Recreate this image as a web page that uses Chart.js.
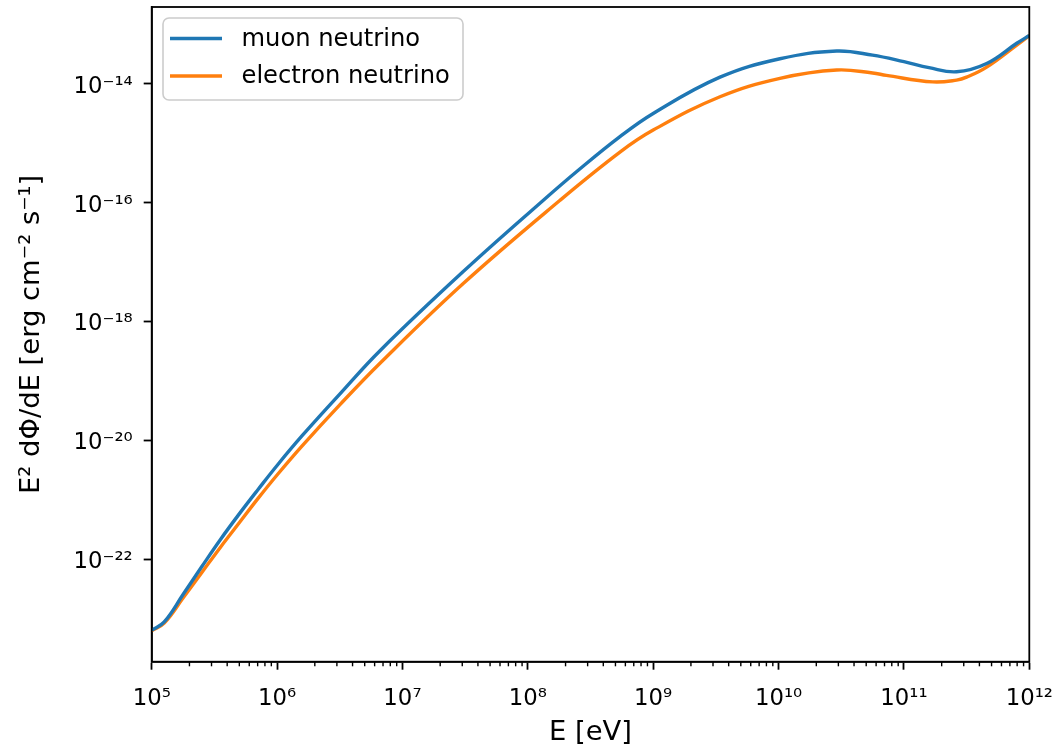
<!DOCTYPE html>
<html>
<head>
<meta charset="utf-8">
<script src="https://cdn.jsdelivr.net/npm/chart.js@4/dist/chart.umd.min.js"></script>
<style>
  body { margin: 0; background: #fff; }
  #wrap { width: 1059px; height: 753px; position: relative; }
</style>
</head>
<body>
<div id="wrap"><canvas id="fluxChart"></canvas></div>
<script>
// values, as log10 of E [eV] and of E^2 dPhi/dE
var muonLogE = [5.0, 5.1, 5.25, 5.4, 5.55, 5.7, 5.85, 6.0, 6.2, 6.5, 6.821, 7.485, 8.124, 8.4, 8.735, 9.0, 9.533, 10.011, 10.464, 10.75, 11.0, 11.2, 11.42, 11.66, 11.9, 12.0];
var muonLogFlux = [-23.19, -23.05, -22.59, -22.12, -21.66, -21.23, -20.82, -20.42, -19.92, -19.22, -18.49, -17.16, -15.96, -15.46, -14.89, -14.5, -13.89, -13.58, -13.45, -13.52, -13.63, -13.73, -13.8, -13.66, -13.32, -13.19];

var electronLogE = [5.0, 5.1, 5.25, 5.4, 5.55, 5.7, 5.85, 6.0, 6.2, 6.5, 6.821, 7.485, 8.257, 8.735, 9.0, 9.533, 10.011, 10.464, 10.75, 10.86, 11.23, 11.42, 11.5, 11.66, 11.9, 12.0];
var electronLogFlux = [-23.2, -23.07, -22.65, -22.22, -21.79, -21.38, -20.97, -20.58, -20.09, -19.4, -18.7, -17.36, -15.96, -15.15, -14.78, -14.22, -13.91, -13.77, -13.82, -13.86, -13.97, -13.94, -13.89, -13.72, -13.35, -13.19];

var labels = ["muon neutrino", "electron neutrino"];
var colors = ["#1f77b4", "#ff7f0e"];

var xTickExp = [5, 6, 7, 8, 9, 10, 11, 12];
var yTickExp = [-22, -20, -18, -16, -14];
var xMinorMult = [2, 3, 4, 5, 6, 7, 8, 9];

var sup = { "-": "\u207B", "0": "\u2070", "1": "\u00B9", "2": "\u00B2", "3": "\u00B3", "4": "\u2074",
  "5": "\u2075", "6": "\u2076", "7": "\u2077", "8": "\u2078", "9": "\u2079" };

function powLabel(v) {
  var e = Math.round(Math.log10(v));
  return "10" + String(e).split("").map((c) => sup[c]).join("");
}

function toPoints(logE, logF) {
  return logE.map((e, i) => ({ x: Math.pow(10, e), y: Math.pow(10, logF[i]) }));
}

Chart.defaults.font.family = "DejaVu Sans";
Chart.defaults.color = "#000";

const frameAndMinor = {
  id: "frameAndMinor",
  afterDraw(chart) {
    const ctx = chart.ctx;
    const a = chart.chartArea;
    const xs = chart.scales.x;
    ctx.save();
    ctx.strokeStyle = "#000";
    // minor ticks on the energy axis
    ctx.lineWidth = 1.4;
    for (var n = 5; n < 12; n++) {
      for (var m of xMinorMult) {
        var px = xs.getPixelForValue(m * Math.pow(10, n));
        ctx.beginPath();
        ctx.moveTo(px, a.bottom);
        ctx.lineTo(px, a.bottom + 4.6);
        ctx.stroke();
      }
    }
    // box round the axes
    ctx.lineWidth = 1.8;
    ctx.strokeRect(a.left, a.top, a.right - a.left, a.bottom - a.top);

    // legend in upper left
    var bx = 163, by = 18, bw = 300, bh = 82, r = 6;
    ctx.beginPath();
    ctx.moveTo(bx + r, by);
    ctx.arcTo(bx + bw, by, bx + bw, by + bh, r);
    ctx.arcTo(bx + bw, by + bh, bx, by + bh, r);
    ctx.arcTo(bx, by + bh, bx, by, r);
    ctx.arcTo(bx, by, bx + bw, by, r);
    ctx.closePath();
    ctx.fillStyle = "rgba(255,255,255,0.8)";
    ctx.fill();
    ctx.strokeStyle = "#cccccc";
    ctx.lineWidth = 1.6;
    ctx.stroke();
    ctx.font = "24.2px 'DejaVu Sans'";
    ctx.textBaseline = "middle";
    ctx.textAlign = "left";
    chart.data.datasets.forEach((ds, i) => {
      var ly = 38.5 + i * 37.5;
      ctx.strokeStyle = ds.borderColor;
      ctx.lineWidth = 3.4;
      ctx.beginPath();
      ctx.moveTo(170, ly);
      ctx.lineTo(222, ly);
      ctx.stroke();
      ctx.fillStyle = "#000";
      ctx.fillText(ds.label, 241.5, ly + 1);
    });
    ctx.restore();
  },
};

new Chart(document.getElementById("fluxChart"), {
  type: "line",
  data: {
    datasets: [
      {
        label: labels[0],
        data: toPoints(muonLogE, muonLogFlux),
        borderColor: colors[0],
        backgroundColor: colors[0],
      },
      {
        label: labels[1],
        data: toPoints(electronLogE, electronLogFlux),
        borderColor: colors[1],
        backgroundColor: colors[1],
      },
    ],
  },
  options: {
    responsive: true,
    maintainAspectRatio: false,
    animation: false,
    devicePixelRatio: 1,
    layout: { padding: { top: 7, right: 29.7, left: 0, bottom: 0 } },
    elements: {
      point: { radius: 0 },
      line: { borderWidth: 3.4, tension: 0.4, fill: false },
    },
    plugins: {
      legend: { display: false },
      tooltip: { enabled: false },
    },
    scales: {
      x: {
        type: "logarithmic",
        min: 1e5,
        max: 1e12,
        bounds: "data",
        afterBuildTicks: (axis) => {
          axis.ticks = xTickExp.map((e) => ({ value: Math.pow(10, e), major: true }));
        },
        afterFit: (axis) => {
          axis.height = 91.3;
          axis.paddingLeft = 0;
          axis.paddingRight = 0;
        },
        ticks: {
          autoSkip: false,
          maxRotation: 0,
          padding: 16,
          font: { size: 22.8 },
          callback: (v) => powLabel(v),
        },
        grid: { drawOnChartArea: false, tickLength: 8, tickWidth: 1.8, tickColor: "#000" },
        border: { display: true, color: "#000", width: 1.8 },
        title: { display: true, text: "E [eV]", font: { size: 27.4 }, padding: { top: 0, bottom: 3.6 } },
      },
      y: {
        type: "logarithmic",
        min: Math.pow(10, -23.72),
        max: Math.pow(10, -12.71),
        bounds: "data",
        afterBuildTicks: (axis) => {
          axis.ticks = yTickExp.map((e) => ({ value: Math.pow(10, e), major: true }));
        },
        afterFit: (axis) => {
          axis.width = 151.7;
          axis.paddingTop = 0;
          axis.paddingBottom = 0;
        },
        ticks: {
          autoSkip: false,
          padding: 11,
          labelOffset: 3,
          font: { size: 22.8 },
          callback: (v) => powLabel(v),
        },
        grid: { drawOnChartArea: false, tickLength: 8, tickWidth: 1.8, tickColor: "#000" },
        border: { display: true, color: "#000", width: 1.8 },
        title: {
          display: true,
          text: "E\u00B2 d\u03A6/dE [erg cm\u207B\u00B2 s\u207B\u00B9]",
          font: { size: 27.4 },
          padding: { top: 15.6, bottom: 0 },
        },
      },
    },
  },
  plugins: [frameAndMinor],
});
</script>
</body>
</html>
